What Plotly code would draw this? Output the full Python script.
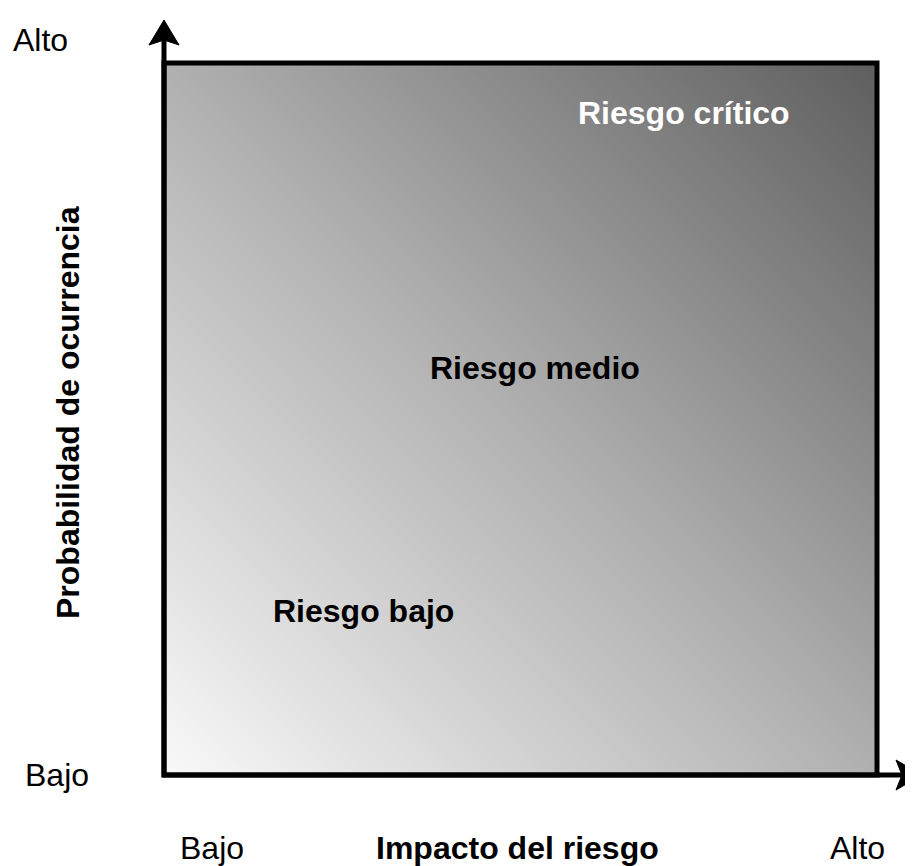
import plotly.graph_objects as go

# Data (conceptual risk matrix)
grad_x = [0, 1]
grad_y = [0, 1]
grad_z = [[0, 1], [1, 2]]  # diagonal risk level: low (bottom-left) -> high (top-right)

zone_labels = ["Riesgo bajo", "Riesgo medio", "Riesgo crítico"]
zone_x = [0.28, 0.52, 0.729]
zone_y = [0.23, 0.571, 0.93]
zone_colors = ["black", "black", "white"]

axis_low, axis_high = "Bajo", "Alto"
x_title = "Impacto del riesgo"
y_title = "Probabilidad de ocurrencia"

OFF = 8  # page body margin
W, H = 913 - OFF, 866 - OFF
L, R, T, B = 164, 877, 63, 775  # plot-area edges in reference pixels


def px(x):
    return (x - L) / (R - L)


def py(y):
    return (B - y) / (B - T)


fig = go.Figure()
fig.add_trace(go.Heatmap(
    x=grad_x, y=grad_y, z=grad_z, zsmooth="best", showscale=False,
    colorscale=[[0, "#f9f9f9"], [0.5, "#b0b0b0"], [1, "#5e5e5e"]],
    hoverinfo="skip",
))

font = "Liberation Sans, Arial, sans-serif"
shapes = [
    dict(type="rect", xref="paper", yref="paper", x0=0, x1=1, y0=0, y1=1,
         line=dict(color="black", width=5)),
    dict(type="line", xref="paper", yref="paper", x0=0, x1=0, y0=py(777), y1=py(38),
         line=dict(color="black", width=5)),
    dict(type="line", xref="paper", yref="paper", x0=px(162), x1=px(905), y0=0, y1=0,
         line=dict(color="black", width=5)),
]


def tri(pts):
    s = "M " + " L ".join(f"{px(a):.5f},{py(b):.5f}" for a, b in pts) + " Z"
    return dict(type="path", xref="paper", yref="paper", path=s,
                fillcolor="black", line=dict(color="black", width=1))


shapes.append(tri([(164, 20), (179, 45), (164, 40), (149, 45)]))
shapes.append(tri([(922, 775), (896, 760), (902, 775), (896, 790)]))

ann = []


def add(text, x, y, size=32, bold=False, color="black", angle=0):
    ann.append(dict(text=f"<b>{text}</b>" if bold else text, xref="paper", yref="paper",
                    x=x, y=y, xanchor="center", yanchor="middle", showarrow=False,
                    textangle=angle, font=dict(family=font, size=size, color=color)))


add(axis_high, px(40), py(40))
add(axis_low, px(57), py(775))
add(axis_low, px(212), py(848))
add(x_title, px(517), py(848), bold=True)
add(axis_high, px(857), py(848))
add(y_title, px(68), py(413), bold=True, angle=-90)
for t, x, y, c in zip(zone_labels, zone_x, zone_y, zone_colors):
    add(t, x, y, bold=True, color=c)

fig.update_layout(
    width=W, height=H,
    margin=dict(l=L - OFF, r=913 - R, t=T - OFF, b=866 - B),
    paper_bgcolor="white", plot_bgcolor="white",
    xaxis=dict(range=[0, 1], visible=False),
    yaxis=dict(range=[0, 1], visible=False),
    shapes=shapes, annotations=ann, showlegend=False,
)
fig.write_html("out.html")
